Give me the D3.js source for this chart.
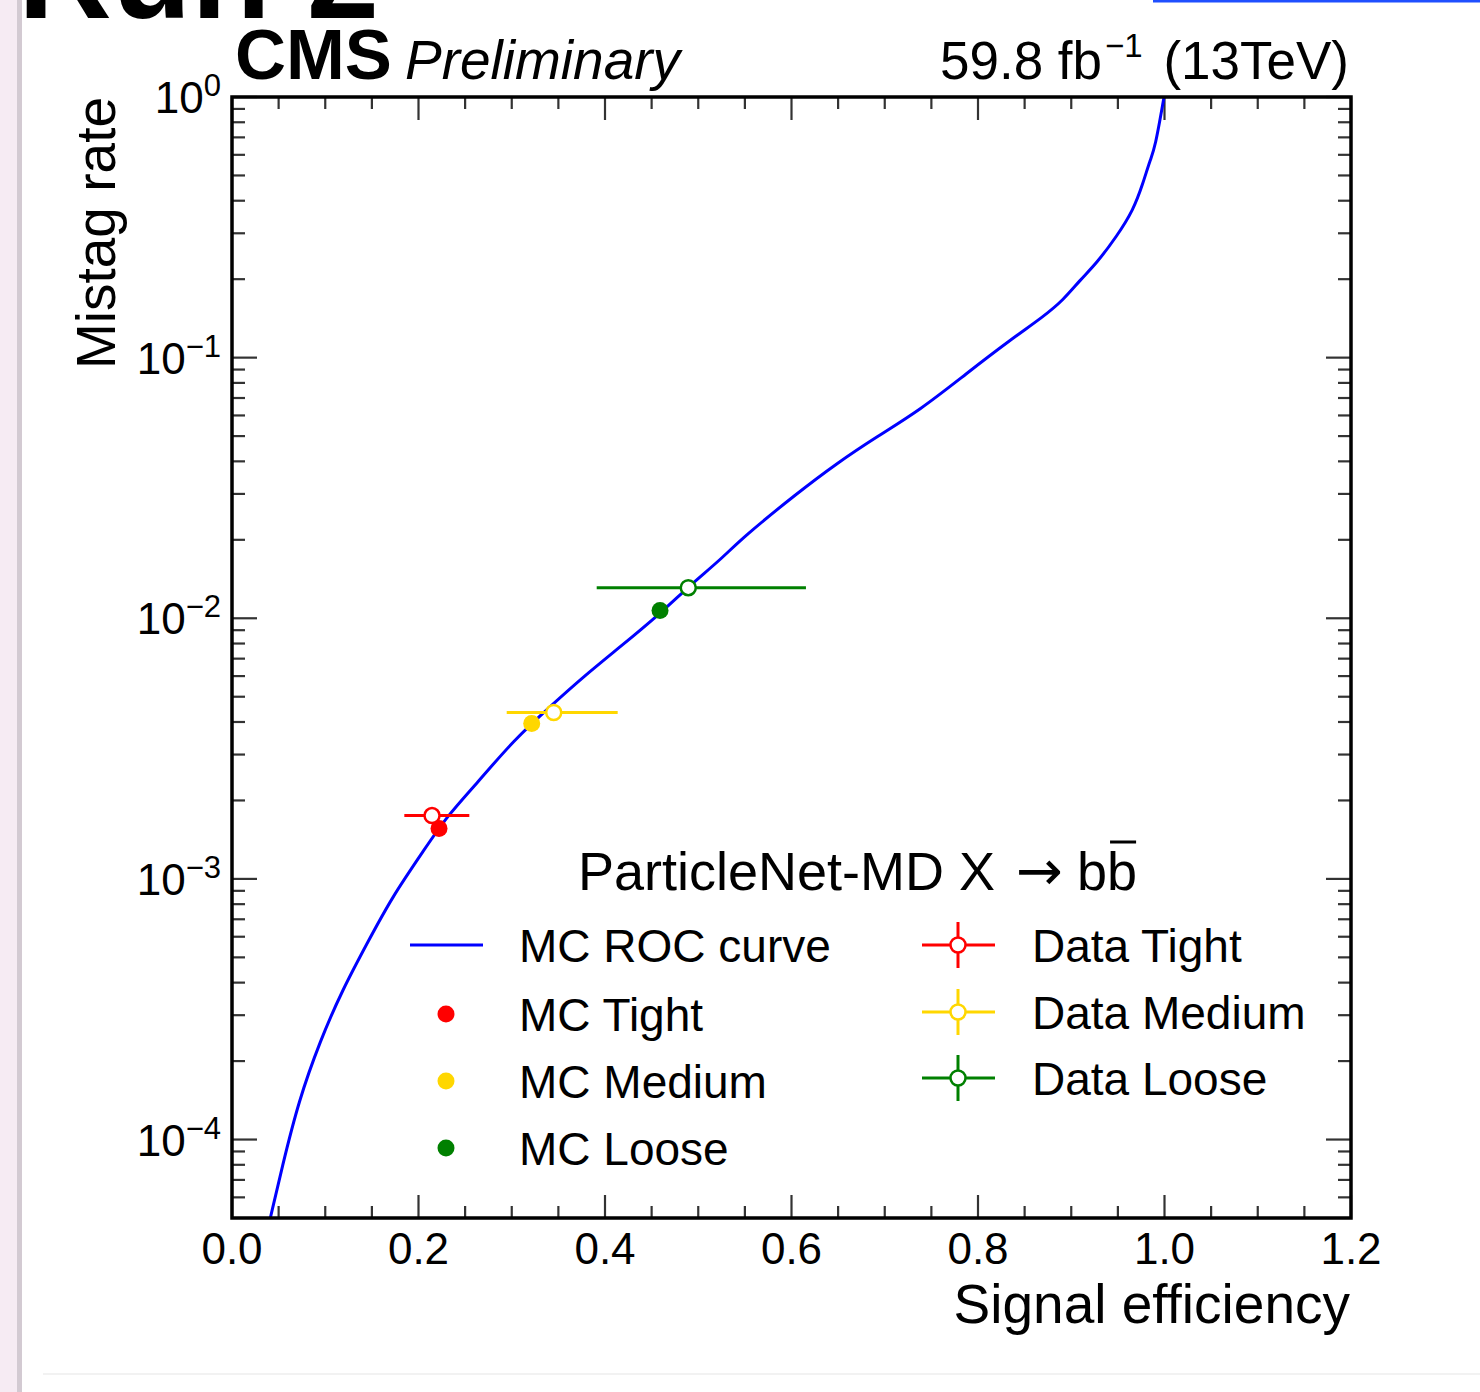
<!DOCTYPE html>
<html>
<head>
<meta charset="utf-8">
<script src="https://cdn.jsdelivr.net/npm/d3@7"></script>
<style>
  html, body { margin: 0; padding: 0; background: #fff; }
  svg { display: block; }
  text { font-family: "Liberation Sans", Arial, Helvetica, sans-serif; fill: #000; }
</style>
</head>
<body>
<svg id="chart" width="1480" height="1392"></svg>
<script>
// ---- MC ROC curve: signal efficiency vs mistag rate ----
const rocEff = [0.0411, 0.0536, 0.0715, 0.0947, 0.118, 0.1466, 0.1716, 0.2056, 0.230,
  0.2624, 0.3017, 0.3445, 0.3767, 0.4161, 0.459, 0.4912, 0.5233, 0.5483, 0.6056,
  0.6485, 0.6913, 0.7378, 0.7878, 0.8343, 0.870, 0.8915, 0.9094, 0.927, 0.9485,
  0.9666, 0.977, 0.9845, 0.9898, 0.9995];
const rocMistag = [5.0e-5, 7.8e-5, 1.41e-4, 2.40e-4, 3.73e-4, 5.81e-4, 8.51e-4, 1.285e-3, 1.73e-3,
  2.32e-3, 3.40e-3, 4.70e-3, 5.96e-3, 7.76e-3, 1.04e-2, 1.34e-2, 1.67e-2, 2.05e-2, 3.01e-2,
  3.93e-2, 4.97e-2, 6.29e-2, 8.70e-2, 0.1167, 0.1435, 0.1663, 0.1984, 0.230, 0.291,
  0.368, 0.467, 0.573, 0.635, 1.0];

// ---- working points ----
const wpNames = ["Tight", "Medium", "Loose"];
const mcEff = [0.222, 0.3214, 0.459];
const mcMistag = [1.56e-3, 3.95e-3, 1.07e-2];
const dataEff = [0.2145, 0.345, 0.4893];
const dataMistag = [1.75e-3, 4.35e-3, 1.31e-2];
const dataEffErrLo = [0.0297, 0.0504, 0.0982];
const dataEffErrHi = [0.0400, 0.0686, 0.1262];

// ---- axes ----
const xTicks = [0.0, 0.2, 0.4, 0.6, 0.8, 1.0, 1.2];
const xTickLabels = ["0.0", "0.2", "0.4", "0.6", "0.8", "1.0", "1.2"];
const yTickExponents = [0, -1, -2, -3, -4];
const xLabel = "Signal efficiency";
const yLabel = "Mistag rate";

// styles
const wpColor = { Tight: "#ff0000", Medium: "#ffd700", Loose: "#008000" };
const rocColor = "#0000ff";

const svg = d3.select("#chart");

// ---- page surround ----
svg.append("rect").attr("x", 0).attr("y", 0).attr("width", 17).attr("height", 1392).attr("fill", "#f6ebf3");
svg.append("rect").attr("x", 17).attr("y", 0).attr("width", 5).attr("height", 1392).attr("fill", "#d3cad2");
svg.append("line").attr("x1", 43).attr("x2", 1480).attr("y1", 1374).attr("y2", 1374)
  .attr("stroke", "#eeeeee").attr("stroke-width", 1.5);
svg.append("rect").attr("x", 1153).attr("y", 0).attr("width", 327).attr("height", 2.5).attr("fill", "#1f4fff");
svg.append("text").attr("x", 18).attr("y", 18)
  .attr("font-size", 130).attr("font-weight", "bold").text("Run 2");

// ---- scales ----
const x = d3.scaleLinear().domain([0, 1.2]).range([232, 1351]);
const y = d3.scaleLog().domain([5e-5, 1]).range([1218, 97]);
const [x0, x1] = x.range();
const [yb, yt] = y.range();

// ---- ticks (drawn inward on all four sides) ----
const tickG = svg.append("g").attr("stroke", "#333").attr("stroke-width", 2.2);
const xMinor = d3.range(0, 1.2001, 0.05).filter(v => Math.abs(v / 0.2 - Math.round(v / 0.2)) > 1e-6);
xMinor.forEach(v => {
  tickG.append("line").attr("x1", x(v)).attr("x2", x(v)).attr("y1", yb).attr("y2", yb - 12);
  tickG.append("line").attr("x1", x(v)).attr("x2", x(v)).attr("y1", yt).attr("y2", yt + 12);
});
xTicks.forEach(v => {
  tickG.append("line").attr("x1", x(v)).attr("x2", x(v)).attr("y1", yb).attr("y2", yb - 23);
  tickG.append("line").attr("x1", x(v)).attr("x2", x(v)).attr("y1", yt).attr("y2", yt + 23);
});
const yMinor = [];
[-5, -4, -3, -2, -1].forEach(e => {
  for (let k = 2; k <= 9; k++) {
    const v = k * Math.pow(10, e);
    if (v > 5e-5 && v < 1) yMinor.push(v);
  }
});
yMinor.forEach(v => {
  tickG.append("line").attr("x1", x0).attr("x2", x0 + 13).attr("y1", y(v)).attr("y2", y(v));
  tickG.append("line").attr("x1", x1).attr("x2", x1 - 13).attr("y1", y(v)).attr("y2", y(v));
});
yTickExponents.forEach(e => {
  const v = Math.pow(10, e);
  tickG.append("line").attr("x1", x0).attr("x2", x0 + 25).attr("y1", y(v)).attr("y2", y(v));
  tickG.append("line").attr("x1", x1).attr("x2", x1 - 25).attr("y1", y(v)).attr("y2", y(v));
});

// ---- tick labels ----
xTicks.forEach((v, i) => {
  svg.append("text").attr("x", x(v)).attr("y", 1264).attr("text-anchor", "middle")
    .attr("font-size", 44).text(xTickLabels[i]);
});
yTickExponents.forEach(e => {
  const t = svg.append("text").attr("x", 221).attr("y", y(Math.pow(10, e)) + 16)
    .attr("text-anchor", "end").attr("font-size", 44);
  t.append("tspan").text("10");
  t.append("tspan").attr("dy", -17).attr("font-size", 31)
    .text(e === 0 ? "0" : "\u2212" + (-e));
});

// ---- axis titles ----
svg.append("text").attr("x", 1350).attr("y", 1323).attr("text-anchor", "end")
  .attr("font-size", 55).text(xLabel);
svg.append("text").attr("transform", "translate(115,97) rotate(-90)")
  .attr("text-anchor", "end").attr("font-size", 55).text(yLabel);

// ---- header ----
svg.append("text").attr("x", 235).attr("y", 79).attr("font-size", 70)
  .attr("font-weight", "bold").attr("textLength", 157).attr("lengthAdjust", "spacingAndGlyphs").text("CMS");
svg.append("text").attr("x", 405).attr("y", 79).attr("font-size", 55)
  .attr("font-style", "italic").text("Preliminary");
const lumi = svg.append("text").attr("x", 1349).attr("y", 79).attr("text-anchor", "end").attr("font-size", 53);
lumi.append("tspan").text("59.8 fb");
lumi.append("tspan").attr("dx", 3).attr("dy", -22).attr("font-size", 33).text("\u22121");
lumi.append("tspan").attr("dx", 6).attr("dy", 22).attr("font-size", 53).text(" (13TeV)");

// ---- plot contents, clipped to the frame ----
svg.append("clipPath").attr("id", "plotClip").append("rect")
  .attr("x", x0).attr("y", yt).attr("width", x1 - x0).attr("height", yb - yt);
const plot = svg.append("g").attr("clip-path", "url(#plotClip)");

const rocPoints = rocEff.map((e, i) => [e, rocMistag[i]]);
plot.append("path").datum(rocPoints)
  .attr("fill", "none").attr("stroke", rocColor).attr("stroke-width", 3)
  .attr("stroke-linejoin", "round")
  .attr("d", d3.line().curve(d3.curveBasis).x(d => x(d[0])).y(d => y(d[1])));

// data error bars
wpNames.forEach((n, i) => {
  plot.append("line")
    .attr("x1", x(dataEff[i] - dataEffErrLo[i])).attr("x2", x(dataEff[i] + dataEffErrHi[i]))
    .attr("y1", y(dataMistag[i])).attr("y2", y(dataMistag[i]))
    .attr("stroke", wpColor[n]).attr("stroke-width", 3);
});
// MC working points
wpNames.forEach((n, i) => {
  plot.append("circle").attr("cx", x(mcEff[i])).attr("cy", y(mcMistag[i])).attr("r", 8.5)
    .attr("fill", wpColor[n]);
});
// data working points
wpNames.forEach((n, i) => {
  plot.append("circle").attr("cx", x(dataEff[i])).attr("cy", y(dataMistag[i])).attr("r", 7.5)
    .attr("fill", "#fff").attr("stroke", wpColor[n]).attr("stroke-width", 2.5);
});

// ---- frame ----
svg.append("rect").attr("x", x0).attr("y", yt).attr("width", x1 - x0).attr("height", yb - yt)
  .attr("fill", "none").attr("stroke", "#000").attr("stroke-width", 3.5);

// ---- legend ----
const lt = svg.append("text").attr("x", 578).attr("y", 890).attr("font-size", 54);
lt.append("tspan").text("ParticleNet-MD X ");
lt.append("tspan").attr("dx", 6).attr("font-family", '"DejaVu Sans", sans-serif').attr("font-size", 56).text("\u2192");
lt.append("tspan").attr("dx", 14).text("bb");
{
  // bar over the second b
  const end = lt.node().getNumberOfChars() - 1;
  const box = lt.node().getExtentOfChar(end);
  svg.append("line").attr("x1", box.x + 3).attr("x2", box.x + box.width - 1)
    .attr("y1", 842).attr("y2", 842).attr("stroke", "#000").attr("stroke-width", 3);
}
const leftRows = [945, 1014, 1081, 1148];
const rightRows = [945, 1012, 1078];
// MC ROC entry
svg.append("line").attr("x1", 410).attr("x2", 483).attr("y1", leftRows[0]).attr("y2", leftRows[0])
  .attr("stroke", rocColor).attr("stroke-width", 3);
svg.append("text").attr("x", 519).attr("y", leftRows[0] + 17).attr("font-size", 46).text("MC ROC curve");
wpNames.forEach((n, i) => {
  const ry = leftRows[i + 1];
  svg.append("circle").attr("cx", 446).attr("cy", ry).attr("r", 8.5).attr("fill", wpColor[n]);
  svg.append("text").attr("x", 519).attr("y", ry + 17).attr("font-size", 46).text("MC " + n);
});
wpNames.forEach((n, i) => {
  const ry = rightRows[i];
  const g = svg.append("g").attr("stroke", wpColor[n]).attr("stroke-width", 3);
  g.append("line").attr("x1", 922).attr("x2", 995).attr("y1", ry).attr("y2", ry);
  g.append("line").attr("x1", 958).attr("x2", 958).attr("y1", ry - 23).attr("y2", ry + 23);
  svg.append("circle").attr("cx", 958).attr("cy", ry).attr("r", 7.5)
    .attr("fill", "#fff").attr("stroke", wpColor[n]).attr("stroke-width", 2.5);
  svg.append("text").attr("x", 1032).attr("y", ry + 17).attr("font-size", 46).text("Data " + n);
});
</script>
</body>
</html>
